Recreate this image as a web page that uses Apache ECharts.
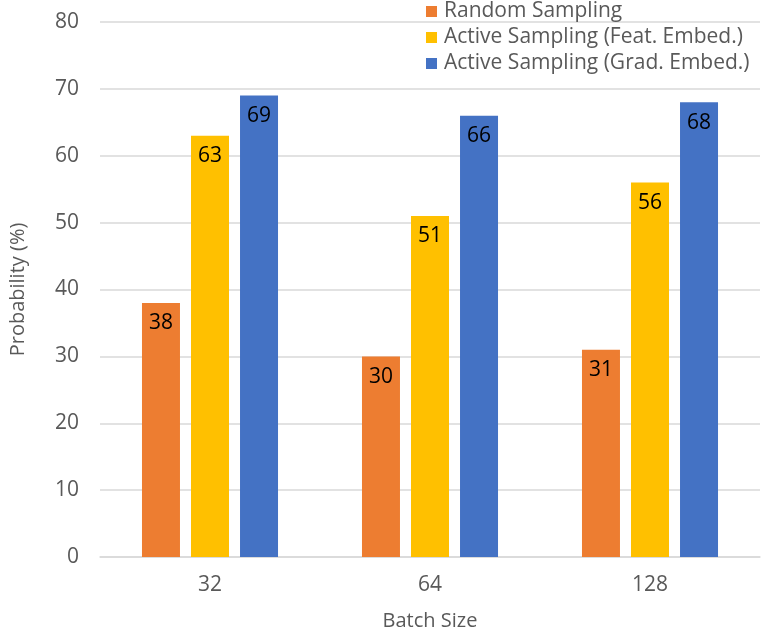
<!DOCTYPE html>
<html><head><meta charset="utf-8">
<script src="https://cdn.jsdelivr.net/npm/echarts@6/dist/echarts.min.js"></script>
<style>html,body{margin:0;padding:0;background:#fff}#c{width:761px;height:636px}</style>
</head><body><div id="c"></div>
<script>
const categories = ['32', '64', '128'];
const seriesNames = ['Random Sampling', 'Active Sampling (Feat. Embed.)', 'Active Sampling (Grad. Embed.)'];
const randomVals = [38, 30, 31];
const featVals = [63, 51, 56];
const gradVals = [69, 66, 68];
const colors = ['#ED7D31', '#FFC000', '#4472C4'];
const font = '"Open Sans", Calibri, sans-serif';
const chart = echarts.init(document.getElementById('c'), null, {renderer: 'canvas'});
const lbl = {show: true, position: 'insideTop', color: '#000', fontSize: 21, fontFamily: font, distance: 10};
chart.setOption({
  animation: false,
  color: colors,
  textStyle: {fontFamily: font},
  grid: {left: 99, right: 1, top: 22, bottom: 79},
  legend: {
    orient: 'vertical', left: 421, top: -4, itemWidth: 11, itemHeight: 11, itemGap: 5,
    icon: 'rect',
    textStyle: {fontSize: 21, color: '#595959', fontFamily: font, padding: [0, 0, 0, 2]},
    data: seriesNames
  },
  xAxis: {
    type: 'category', data: categories,
    name: 'Batch Size', nameLocation: 'middle', nameGap: 54,
    nameTextStyle: {fontSize: 20, color: '#595959'},
    axisLine: {lineStyle: {color: '#D9D9D9', width: 1.5}},
    axisTick: {show: false},
    axisLabel: {fontSize: 21, color: '#595959', margin: 18}
  },
  yAxis: {
    type: 'value', min: 0, max: 80, interval: 10,
    name: 'Probability (%)', nameLocation: 'middle', nameGap: 72,
    nameTextStyle: {fontSize: 20, color: '#595959'},
    axisLine: {show: false}, axisTick: {show: false},
    axisLabel: {fontSize: 21, color: '#595959', margin: 21},
    splitLine: {lineStyle: {color: '#D9D9D9', width: 1.5}}
  },
  series: [
    {name: seriesNames[0], type: 'bar', data: randomVals, barWidth: 38, barGap: '29%', label: lbl},
    {name: seriesNames[1], type: 'bar', data: featVals, barWidth: 38, barGap: '29%', label: lbl},
    {name: seriesNames[2], type: 'bar', data: gradVals, barWidth: 38, barGap: '29%', label: lbl}
  ]
});
</script></body></html>
